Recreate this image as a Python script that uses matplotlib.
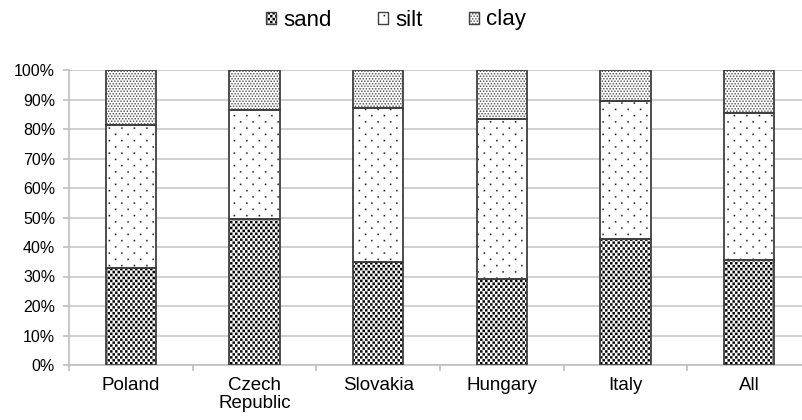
import matplotlib
matplotlib.use("Agg")
import matplotlib.pyplot as plt
import numpy as np
from matplotlib.patches import Patch
from matplotlib.legend_handler import HandlerTuple
from matplotlib import hatch as mhatch
from matplotlib.path import Path

plt.rcParams['font.family'] = ['Liberation Sans', 'DejaVu Sans']
plt.rcParams['hatch.linewidth'] = 0.1

categories = ["Poland", "Czech\nRepublic", "Slovakia", "Hungary", "Italy", "All"]
sand = [32.8, 49.5, 35.0, 29.3, 42.6, 35.5]
silt = [48.6, 36.9, 52.2, 54.0, 46.9, 50.0]
clay = [18.6, 13.6, 12.8, 16.7, 10.5, 14.5]
yticks = [0, 10, 20, 30, 40, 50, 60, 70, 80, 90, 100]
ytick_labels = [f"{v}%" for v in yticks]


# ---- custom dot textures (tile = 1 unit = 100 px at dpi 100) ----
def make_pattern(char, ncols, nrows, half, stagger):
    pts = []
    for i in range(nrows):
        off = 0.5 if (stagger and i % 2) else 0.0
        for j in range(ncols):
            pts.append(((j + off + 0.25) / ncols, (i + 0.5) / nrows))
    pts = np.array(pts)
    sq = np.array([[-1, -1], [1, -1], [1, 1], [-1, 1], [-1, -1]]) * half
    sq_codes = [Path.MOVETO, Path.LINETO, Path.LINETO, Path.LINETO, Path.CLOSEPOLY]

    class Pat(mhatch.HatchPatternBase):
        def __init__(self, hatch, density):
            self.on = char in hatch
            self.num_vertices = len(pts) * 5 if self.on else 0

        def set_vertices_and_codes(self, vertices, codes):
            v = (pts[:, None, :] + sq[None, :, :]).reshape(-1, 2)
            vertices[:] = v
            codes[:] = np.tile(sq_codes, len(pts))
    return Pat


mhatch._hatch_types = [
    make_pattern('O', 20, 34, 0.0118, True),   # sand: dense dark squares
    make_pattern('o', 8, 16, 0.0070, True),    # silt: sparse small dots
    make_pattern('*', 32, 40, 0.0060, True),   # clay: fine grey dots
]

series = [("sand", sand, "O", "#000000"),
          ("silt", silt, "o", "#202020"),
          ("clay", clay, "*", "#404040")]

fig = plt.figure(figsize=(8.02, 4.2), dpi=100)
ax = fig.add_axes([69/802, 55/420, (811-69)/802, 295/420])

x = np.arange(len(categories))
width = 0.405
bottom = np.zeros(len(categories))
handles = []
for name, vals, hatch, hc in series:
    ax.bar(x, vals, width, bottom=bottom, color="white", edgecolor=hc,
           hatch=hatch, linewidth=0, zorder=2)
    ax.bar(x, vals, width, bottom=bottom, color="none", edgecolor="#404040",
           linewidth=1.3, zorder=3)
    bottom += np.array(vals)
    handles.append((Patch(facecolor="white", edgecolor=hc, hatch=hatch, linewidth=0),
                    Patch(facecolor="none", edgecolor="#404040", linewidth=1.0)))

ax.set_xlim(-0.5, len(categories) - 0.5)
ax.set_ylim(0, 100)
ax.set_yticks(yticks)
ax.set_yticklabels(ytick_labels, fontsize=11.5)
ax.set_xticks(x)
ax.set_xticklabels(categories, fontsize=13.5, linespacing=1.0)
ax.set_xticks(np.arange(len(categories) + 1) - 0.5, minor=True)
ax.tick_params(axis='x', which='major', length=0, pad=9)
ax.tick_params(axis='x', which='minor', length=4.5, color="#bfbfbf", width=1.2)
ax.tick_params(axis='y', length=4, color="#bfbfbf", width=1.2, pad=6)
ax.yaxis.grid(True, color="#c8c8c8", linewidth=1.2, zorder=0)
ax.set_axisbelow(True)
for s in ["top", "right"]:
    ax.spines[s].set_visible(False)
for s in ["left", "bottom"]:
    ax.spines[s].set_color("#bfbfbf")
    ax.spines[s].set_linewidth(1.2)

fig.legend(handles=handles, labels=[s[0] for s in series],
           handler_map={tuple: HandlerTuple(ndivide=1, pad=0)},
           loc="center", bbox_to_anchor=(0.494, 1 - 20/420),
           ncol=3, frameon=False, fontsize=16, handlelength=0.45, handleheight=0.45,
           handletextpad=0.32, columnspacing=2.1)

fig.savefig("out.png", dpi=100)
